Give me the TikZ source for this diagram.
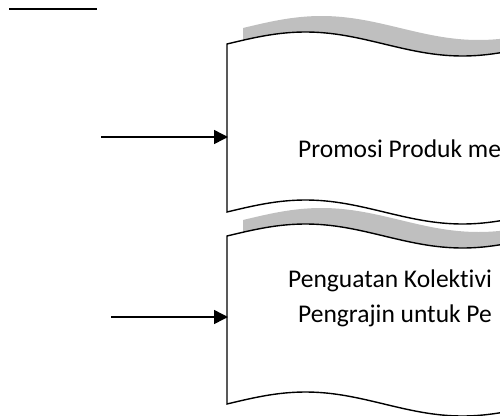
\documentclass[tikz,border=0pt]{standalone}
\usepackage{fontspec}
\setmainfont{Carlito}[Ligatures=NoCommon]
\usepackage{tikz}
\usetikzlibrary{arrows.meta, positioning}
\definecolor{tapeshadow}{RGB}{191,191,191}

\begin{document}
\begin{tikzpicture}[x = 1pt, y = -1pt,
			> = {Triangle[length=14pt, width=14pt]},
			tape/.style = {draw, line width=1.4pt, fill=white},
			tapeshade/.style = {fill=tapeshadow},
			tapetext/.style = {anchor=base west, inner sep=0pt, font=\fontsize{25.5}{30}\selectfont}]
			\useasboundingbox (0,0) rectangle (500,415);
			\clip (0,0) rectangle (500,415);
			%
			\draw[line width=2.4pt] (9,8.7) -- (97,8.7);
			%
			\foreach \dy in {0,192}{
				\path[tapeshade, shift={(16,\dy-16)}]
				(227,44) sin (305.5,32) cos (384,44) sin (462.5,56) cos (541,44)
				-- (541,212) sin (462.5,224) cos (384,212) sin (305.5,200) cos (227,212) -- cycle;
				\path[tape, shift={(0,\dy)}]
				(227,44) sin (305.5,32) cos (384,44) sin (462.5,56) cos (541,44)
				-- (541,212) sin (462.5,224) cos (384,212) sin (305.5,200) cos (227,212) -- cycle;
			}
			%
			\node[tapetext] (promosi) at (298,157) {Promosi Produk me};
			\node[tapetext] (kolektif) at (288,287) {Penguatan Kolektivi};
			\node[tapetext] (pengrajin) at (298,322) {Pengrajin untuk Pe};
			%
			\coordinate (inA) at (101,137);
			\coordinate (tapeA) at (228,137);
			\coordinate (inB) at (111,317);
			\coordinate (tapeB) at (228,317);
			
			\draw[->, line width=1.5pt] (inA) -- (tapeA);
			\draw[->, line width=1.5pt] (inB) -- (tapeB);
		\end{tikzpicture}
\end{document}
